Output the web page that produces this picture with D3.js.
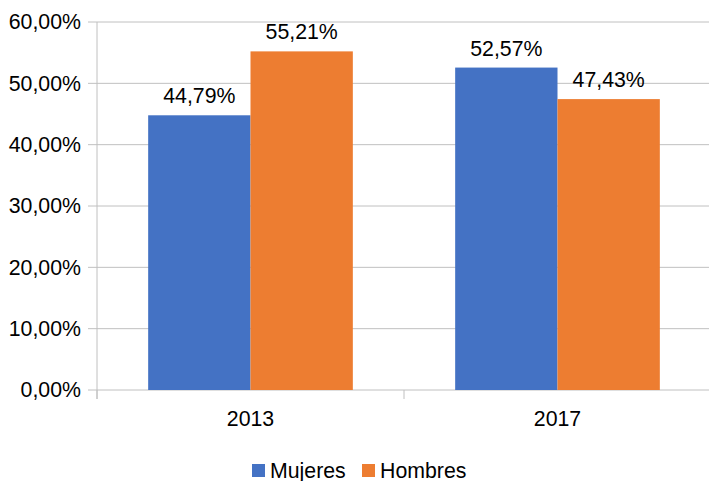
<!DOCTYPE html>
<html>
<head>
<meta charset="utf-8">
<script src="https://cdn.jsdelivr.net/npm/d3@7"></script>
<style>
  body { margin: 0; background: #fff; }
  svg text { font-family: "Liberation Sans", Arial, sans-serif; fill: #000; }
</style>
</head>
<body>
<div class="chart"></div>
<script>
var years = ["2013", "2017"];
var seriesNames = ["Mujeres", "Hombres"];
var mujeres = [44.79, 52.57];
var hombres = [55.21, 47.43];
var yTicks = [0, 10, 20, 30, 40, 50, 60];
var colors = ["#4472c4", "#ed7d31"];

var svgWidth = 709;
var svgHeight = 481;
var margin = { top: 22, right: -2, bottom: 91, left: 97 };
var width = svgWidth - margin.left - margin.right;
var height = svgHeight - margin.top - margin.bottom;
var fontSize = "21.3px";

var svg = d3.select(".chart")
  .append("svg")
  .attr("width", svgWidth)
  .attr("height", svgHeight);

var chart = svg.append("g")
  .attr("transform", `translate(${margin.left}, ${margin.top})`);

var x0 = d3.scaleBand().domain(years).range([0, width]).paddingInner(0).paddingOuter(0);
var x1 = d3.scaleBand().domain(seriesNames).range([x0.bandwidth() / 6, x0.bandwidth() * 5 / 6]);
var y = d3.scaleLinear().domain([0, 60]).range([height, 0]);

var fmt = function(v) { return v.toFixed(2).replace(".", ",") + "%"; };

// gridlines
chart.append("g")
  .selectAll("line")
  .data(yTicks)
  .enter().append("line")
  .attr("x1", -9)
  .attr("x2", width)
  .attr("y1", d => y(d))
  .attr("y2", d => y(d))
  .attr("stroke", "#c0c0c0")
  .attr("stroke-width", 1);

// y labels
chart.append("g")
  .selectAll("text")
  .data(yTicks)
  .enter().append("text")
  .attr("x", -16)
  .attr("y", d => y(d))
  .attr("dy", "0.35em")
  .attr("text-anchor", "end")
  .style("font-size", fontSize)
  .text(d => fmt(d));

// y axis line
chart.append("line")
  .attr("x1", 0).attr("x2", 0)
  .attr("y1", 0).attr("y2", height + 9)
  .attr("stroke", "#c0c0c0");

// category ticks
chart.append("g")
  .selectAll("line")
  .data(years.concat(["end"]))
  .enter().append("line")
  .attr("x1", (d, i) => i * x0.bandwidth())
  .attr("x2", (d, i) => i * x0.bandwidth())
  .attr("y1", height)
  .attr("y2", height + 9)
  .attr("stroke", "#c0c0c0");

var rows = years.map(function(yr, i) {
  return { year: yr, values: [mujeres[i], hombres[i]] };
});

var groups = chart.selectAll(".grp")
  .data(rows)
  .enter().append("g")
  .attr("class", "grp")
  .attr("transform", d => `translate(${x0(d.year)},0)`);

groups.selectAll("rect")
  .data(d => d.values.map((v, j) => ({ name: seriesNames[j], v: v, j: j })))
  .enter().append("rect")
  .attr("x", d => x1(d.name))
  .attr("width", x1.bandwidth())
  .attr("y", d => y(d.v))
  .attr("height", d => height - y(d.v))
  .attr("fill", d => colors[d.j]);

groups.selectAll(".val")
  .data(d => d.values.map((v, j) => ({ name: seriesNames[j], v: v })))
  .enter().append("text")
  .attr("class", "val")
  .attr("x", d => x1(d.name) + x1.bandwidth() / 2)
  .attr("y", d => y(d.v) - 12)
  .attr("text-anchor", "middle")
  .style("font-size", fontSize)
  .text(d => fmt(d.v));

// category labels
chart.append("g")
  .selectAll("text")
  .data(years)
  .enter().append("text")
  .attr("x", d => x0(d) + x0.bandwidth() / 2)
  .attr("y", height + 36)
  .attr("text-anchor", "middle")
  .style("font-size", fontSize)
  .text(d => d);

// legend
var legendX = [252, 362];
var legend = svg.append("g");
seriesNames.forEach(function(name, i) {
  legend.append("rect")
    .attr("x", legendX[i])
    .attr("y", 464)
    .attr("width", 13)
    .attr("height", 13)
    .attr("fill", colors[i]);
  legend.append("text")
    .attr("x", legendX[i] + 18)
    .attr("y", 478)
    .style("font-size", fontSize)
    .text(name);
});
</script>
</body>
</html>
